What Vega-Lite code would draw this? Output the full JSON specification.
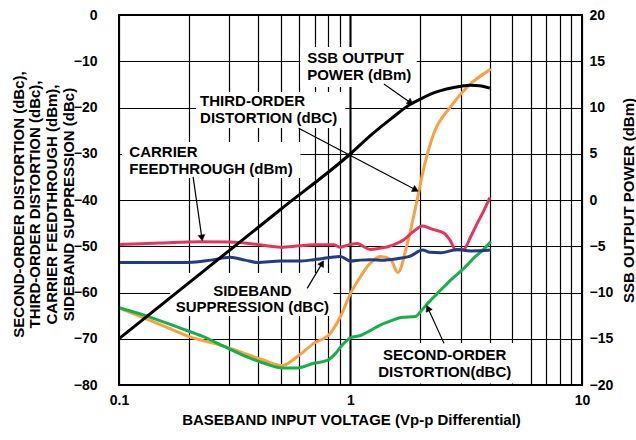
{
  "$schema": "https://vega.github.io/schema/vega-lite/v6.json",
  "width": 463,
  "height": 370,
  "autosize": {"type": "none"},
  "padding": {"left": 119, "top": 15, "right": 54, "bottom": 55},
  "background": "white",
  "view": {"stroke": "black", "strokeWidth": 2},
  "config": {
    "view": {"stroke": "black", "strokeWidth": 2},
    "font": "Liberation Sans",
    "axis": {
      "labelFont": "Liberation Sans", "labelFontSize": 14, "labelFontWeight": "bold", "labelColor": "black",
      "titleFont": "Liberation Sans", "titleFontSize": 15, "titleFontWeight": "bold", "titleColor": "black",
      "domain": false, "ticks": false, "gridColor": "black", "gridOpacity": 1
    }
  },
  "datasets": {
    "curves": [
      {"series": "third", "x": 0.1, "y": -63.3},
      {"series": "third", "x": 0.15, "y": -66.9},
      {"series": "third", "x": 0.2, "y": -69.5},
      {"series": "third", "x": 0.283, "y": -71.6},
      {"series": "third", "x": 0.35, "y": -73.2},
      {"series": "third", "x": 0.42, "y": -74.6},
      {"series": "third", "x": 0.506, "y": -75.8},
      {"series": "third", "x": 0.588, "y": -73.9},
      {"series": "third", "x": 0.694, "y": -71.0},
      {"series": "third", "x": 0.819, "y": -68.8},
      {"series": "third", "x": 0.905, "y": -65.2},
      {"series": "third", "x": 1.0, "y": -60.2},
      {"series": "third", "x": 1.104, "y": -56.6},
      {"series": "third", "x": 1.2, "y": -54.0},
      {"series": "third", "x": 1.35, "y": -52.2},
      {"series": "third", "x": 1.49, "y": -52.8},
      {"series": "third", "x": 1.6, "y": -55.7},
      {"series": "third", "x": 1.76, "y": -49.4},
      {"series": "third", "x": 1.94, "y": -40.0},
      {"series": "third", "x": 2.08, "y": -32.8},
      {"series": "third", "x": 2.29, "y": -25.6},
      {"series": "third", "x": 2.71, "y": -19.8},
      {"series": "third", "x": 3.2, "y": -15.5},
      {"series": "third", "x": 4.04, "y": -11.7},

      {"series": "second", "x": 0.1, "y": -63.3},
      {"series": "second", "x": 0.13, "y": -65.0},
      {"series": "second", "x": 0.184, "y": -67.7},
      {"series": "second", "x": 0.23, "y": -69.5},
      {"series": "second", "x": 0.283, "y": -71.6},
      {"series": "second", "x": 0.357, "y": -73.9},
      {"series": "second", "x": 0.43, "y": -75.4},
      {"series": "second", "x": 0.506, "y": -76.3},
      {"series": "second", "x": 0.588, "y": -76.3},
      {"series": "second", "x": 0.694, "y": -75.3},
      {"series": "second", "x": 0.793, "y": -74.7},
      {"series": "second", "x": 0.85, "y": -73.5},
      {"series": "second", "x": 0.935, "y": -71.0},
      {"series": "second", "x": 1.0, "y": -69.8},
      {"series": "second", "x": 1.104, "y": -69.3},
      {"series": "second", "x": 1.2, "y": -68.4},
      {"series": "second", "x": 1.35, "y": -67.0},
      {"series": "second", "x": 1.5, "y": -66.1},
      {"series": "second", "x": 1.65, "y": -65.4},
      {"series": "second", "x": 1.91, "y": -65.2},
      {"series": "second", "x": 2.0, "y": -64.2},
      {"series": "second", "x": 2.16, "y": -62.3},
      {"series": "second", "x": 2.35, "y": -60.4},
      {"series": "second", "x": 2.54, "y": -58.7},
      {"series": "second", "x": 2.75, "y": -57.0},
      {"series": "second", "x": 2.98, "y": -55.5},
      {"series": "second", "x": 3.2, "y": -54.0},
      {"series": "second", "x": 3.4, "y": -52.6},
      {"series": "second", "x": 3.7, "y": -51.0},
      {"series": "second", "x": 4.04, "y": -49.0},

      {"series": "carrier", "x": 0.1, "y": -49.6},
      {"series": "carrier", "x": 0.15, "y": -49.3},
      {"series": "carrier", "x": 0.224, "y": -49.0},
      {"series": "carrier", "x": 0.3, "y": -49.1},
      {"series": "carrier", "x": 0.38, "y": -49.5},
      {"series": "carrier", "x": 0.45, "y": -50.0},
      {"series": "carrier", "x": 0.5, "y": -50.2},
      {"series": "carrier", "x": 0.6, "y": -49.9},
      {"series": "carrier", "x": 0.694, "y": -49.7},
      {"series": "carrier", "x": 0.847, "y": -49.7},
      {"series": "carrier", "x": 0.9, "y": -50.2},
      {"series": "carrier", "x": 1.0, "y": -49.6},
      {"series": "carrier", "x": 1.07, "y": -49.4},
      {"series": "carrier", "x": 1.15, "y": -50.2},
      {"series": "carrier", "x": 1.22, "y": -50.7},
      {"series": "carrier", "x": 1.35, "y": -50.4},
      {"series": "carrier", "x": 1.45, "y": -50.1},
      {"series": "carrier", "x": 1.6, "y": -49.3},
      {"series": "carrier", "x": 1.7, "y": -48.6},
      {"series": "carrier", "x": 1.85, "y": -47.0},
      {"series": "carrier", "x": 2.05, "y": -45.6},
      {"series": "carrier", "x": 2.25, "y": -46.3},
      {"series": "carrier", "x": 2.54, "y": -47.2},
      {"series": "carrier", "x": 2.7, "y": -48.8},
      {"series": "carrier", "x": 2.85, "y": -50.8},
      {"series": "carrier", "x": 3.08, "y": -50.7},
      {"series": "carrier", "x": 3.3, "y": -48.0},
      {"series": "carrier", "x": 3.53, "y": -45.0},
      {"series": "carrier", "x": 3.75, "y": -42.5},
      {"series": "carrier", "x": 4.0, "y": -39.5},

      {"series": "sideband", "x": 0.1, "y": -53.5},
      {"series": "sideband", "x": 0.2, "y": -53.5},
      {"series": "sideband", "x": 0.25, "y": -53.0},
      {"series": "sideband", "x": 0.302, "y": -52.4},
      {"series": "sideband", "x": 0.35, "y": -53.0},
      {"series": "sideband", "x": 0.395, "y": -53.5},
      {"series": "sideband", "x": 0.5, "y": -53.2},
      {"series": "sideband", "x": 0.6, "y": -53.2},
      {"series": "sideband", "x": 0.694, "y": -52.9},
      {"series": "sideband", "x": 0.8, "y": -52.5},
      {"series": "sideband", "x": 0.905, "y": -52.2},
      {"series": "sideband", "x": 1.0, "y": -53.2},
      {"series": "sideband", "x": 1.1, "y": -53.0},
      {"series": "sideband", "x": 1.22, "y": -52.9},
      {"series": "sideband", "x": 1.4, "y": -53.0},
      {"series": "sideband", "x": 1.59, "y": -52.7},
      {"series": "sideband", "x": 1.8, "y": -52.2},
      {"series": "sideband", "x": 2.05, "y": -50.8},
      {"series": "sideband", "x": 2.2, "y": -51.3},
      {"series": "sideband", "x": 2.46, "y": -51.4},
      {"series": "sideband", "x": 2.89, "y": -50.7},
      {"series": "sideband", "x": 3.3, "y": -51.0},
      {"series": "sideband", "x": 4.04, "y": -50.8}
    ],
    "ssb": [
      {"x": 0.1, "y": -15},
      {"x": 0.5, "y": -1.0},
      {"x": 1.0, "y": 5},
      {"x": 1.25, "y": 7.2},
      {"x": 1.5, "y": 8.8},
      {"x": 1.8, "y": 10.3},
      {"x": 2.0, "y": 10.9},
      {"x": 2.3, "y": 11.6},
      {"x": 2.6, "y": 12.0},
      {"x": 3.0, "y": 12.3},
      {"x": 3.3, "y": 12.4},
      {"x": 3.6, "y": 12.35},
      {"x": 4.0, "y": 12.1}
    ],
    "boxes": [
      {"x1": 0.6076, "x2": 1.931, "y1": -6.92, "y2": -15.57},
      {"x1": 0.2154, "x2": 0.951, "y1": -16.65, "y2": -24.43},
      {"x1": 0.103, "x2": 0.6076, "y1": -27.46, "y2": -35.24},
      {"x1": 0.1663, "x2": 0.844, "y1": -55.78, "y2": -65.08},
      {"x1": 1.245, "x2": 5.44, "y1": -70.92, "y2": -79.7}
    ],
    "frame": [{"x1": 0.1, "x2": 10, "y1": -80, "y2": 0}],
    "arrows": [
      {"x": 1.394, "y": -14.9, "x2": 1.818, "y2": -18.96, "angle": 125},
      {"x": 0.597, "y": -24.5, "x2": 1.911, "y2": -37.8, "angle": 118},
      {"x": 0.209, "y": -35.0, "x2": 0.228, "y2": -48.2, "angle": 172},
      {"x": 0.65, "y": -59.1, "x2": 0.754, "y2": -53.7, "angle": 31},
      {"x": 2.535, "y": -71.0, "x2": 2.161, "y2": -63.4, "angle": 335}
    ],
    "majorGrid": [{"x": 1}],
    "labelsLeft": [
      {"t": "SSB OUTPUT\nPOWER (dBm)", "x": 0.65, "y": -9.3},
      {"t": "THIRD-ORDER\nDISTORTION (dBC)", "x": 0.224, "y": -18.6},
      {"t": "CARRIER\nFEEDTHROUGH (dBm)", "x": 0.1108, "y": -29.6}
    ],
    "labelsCenter": [
      {"t": "SIDEBAND\nSUPPRESSION (dBC)", "x": 0.3766, "y": -59.6},
      {"t": "SECOND-ORDER\nDISTORTION(dBC)", "x": 2.553, "y": -73.5}
    ]
  },
  "layer": [
    {
      "data": {"name": "majorGrid"},
      "mark": {"type": "rule", "color": "black", "strokeWidth": 2},
      "encoding": {
        "x": {"field": "x", "type": "quantitative", "scale": {"type": "log", "domain": [0.1, 10]}}
      }
    },
    {
      "data": {"name": "boxes"},
      "mark": {"type": "rect", "color": "white"},
      "encoding": {
        "x": {"field": "x1", "type": "quantitative", "scale": {"type": "log", "domain": [0.1, 10]}},
        "x2": {"field": "x2"},
        "y": {"field": "y1", "type": "quantitative", "scale": {"domain": [-80, 0]}, "axis": null},
        "y2": {"field": "y2"}
      }
    },
    {
      "data": {"name": "curves"},
      "mark": {"type": "line", "interpolate": "monotone", "strokeWidth": 3},
      "encoding": {
        "x": {
          "field": "x", "type": "quantitative",
          "scale": {"type": "log", "domain": [0.1, 10]},
          "axis": {
            "values": [0.1, 0.2, 0.3, 0.4, 0.5, 0.6, 0.7, 0.8, 0.9, 1, 2, 3, 4, 5, 6, 7, 8, 9, 10],
            "labelExpr": "datum.value == 0.1 || datum.value == 1 || datum.value == 10 ? datum.label : ''",
            "format": "~g",
            "labelFlush": false,
            "title": "BASEBAND INPUT VOLTAGE (Vp-p Differential)",
            "grid": true,
            "gridWidth": 1.2,
            "labelPadding": 8,
            "titleX": 232, "titleY": 34, "titleBaseline": "middle", "titleAlign": "center"
          }
        },
        "y": {
          "field": "y", "type": "quantitative",
          "scale": {"domain": [-80, 0]},
          "axis": {
            "orient": "left",
            "values": [-80, -70, -60, -50, -40, -30, -20, -10, 0],
            "grid": true, "gridWidth": 1.2,
            "labelPadding": 22,
            "title": ["SECOND-ORDER DISTORTION (dBc),", "THIRD-ORDER DISTORTION (dBc),", "CARRIER FEEDTHROUGH (dBm),", "SIDEBAND SUPPRESSION (dBc)"],
            "titleAngle": 270, "titleX": -101, "titleY": 189, "titleAlign": "center", "titleBaseline": "middle",
            "titleLineHeight": 16.7
          }
        },
        "color": {
          "field": "series", "type": "nominal",
          "scale": {"domain": ["carrier", "second", "sideband", "third"], "range": ["#e6345a", "#16b04a", "#223b85", "#f8a13e"]},
          "legend": null
        }
      }
    },
    {
      "data": {"name": "arrows"},
      "mark": {"type": "rule", "color": "black", "strokeWidth": 1.2},
      "encoding": {
        "x": {"field": "x", "type": "quantitative", "scale": {"type": "log", "domain": [0.1, 10]}},
        "x2": {"field": "x2"},
        "y": {"field": "y", "type": "quantitative", "scale": {"domain": [-80, 0]}, "axis": null},
        "y2": {"field": "y2"}
      }
    },
    {
      "data": {"name": "arrows"},
      "mark": {"type": "point", "shape": "triangle-up", "filled": true, "fill": "black", "stroke": "black", "strokeWidth": 0.5, "size": 45, "opacity": 1},
      "encoding": {
        "x": {"field": "x2", "type": "quantitative", "scale": {"type": "log", "domain": [0.1, 10]}},
        "y": {"field": "y2", "type": "quantitative", "scale": {"domain": [-80, 0]}, "axis": null},
        "angle": {"field": "angle", "type": "quantitative", "scale": null}
      }
    },
    {
      "data": {"name": "labelsLeft"},
      "mark": {"type": "text", "align": "left", "baseline": "middle", "font": "Liberation Sans", "fontSize": 15, "fontWeight": "bold", "lineBreak": "\n", "lineHeight": 16.7, "color": "black"},
      "encoding": {
        "x": {"field": "x", "type": "quantitative", "scale": {"type": "log", "domain": [0.1, 10]}},
        "y": {"field": "y", "type": "quantitative", "scale": {"domain": [-80, 0]}, "axis": null},
        "text": {"field": "t"}
      }
    },
    {
      "data": {"name": "labelsCenter"},
      "mark": {"type": "text", "align": "center", "baseline": "middle", "font": "Liberation Sans", "fontSize": 15, "fontWeight": "bold", "lineBreak": "\n", "lineHeight": 16.7, "color": "black"},
      "encoding": {
        "x": {"field": "x", "type": "quantitative", "scale": {"type": "log", "domain": [0.1, 10]}},
        "y": {"field": "y", "type": "quantitative", "scale": {"domain": [-80, 0]}, "axis": null},
        "text": {"field": "t"}
      }
    },
    {
      "data": {"name": "ssb"},
      "mark": {"type": "line", "interpolate": "monotone", "color": "black", "strokeWidth": 3},
      "encoding": {
        "x": {"field": "x", "type": "quantitative", "scale": {"type": "log", "domain": [0.1, 10]}},
        "y": {
          "field": "y", "type": "quantitative",
          "scale": {"domain": [-20, 20]},
          "axis": {
            "orient": "right",
            "values": [-20, -15, -10, -5, 0, 5, 10, 15, 20],
            "grid": false,
            "labelPadding": 7,
            "title": "SSB OUTPUT POWER (dBm)",
            "titleAngle": 270, "titleX": 46, "titleY": 185, "titleAlign": "center", "titleBaseline": "middle"
          }
        }
      }
    },
    {
      "data": {"name": "frame"},
      "mark": {"type": "rect", "filled": false, "stroke": "black", "strokeWidth": 2},
      "encoding": {
        "x": {"field": "x1", "type": "quantitative", "scale": {"type": "log", "domain": [0.1, 10]}},
        "x2": {"field": "x2"},
        "y": {"field": "y1", "type": "quantitative", "scale": {"domain": [-80, 0]}, "axis": null},
        "y2": {"field": "y2"}
      }
    }
  ],
  "resolve": {"scale": {"y": "independent"}}
}
